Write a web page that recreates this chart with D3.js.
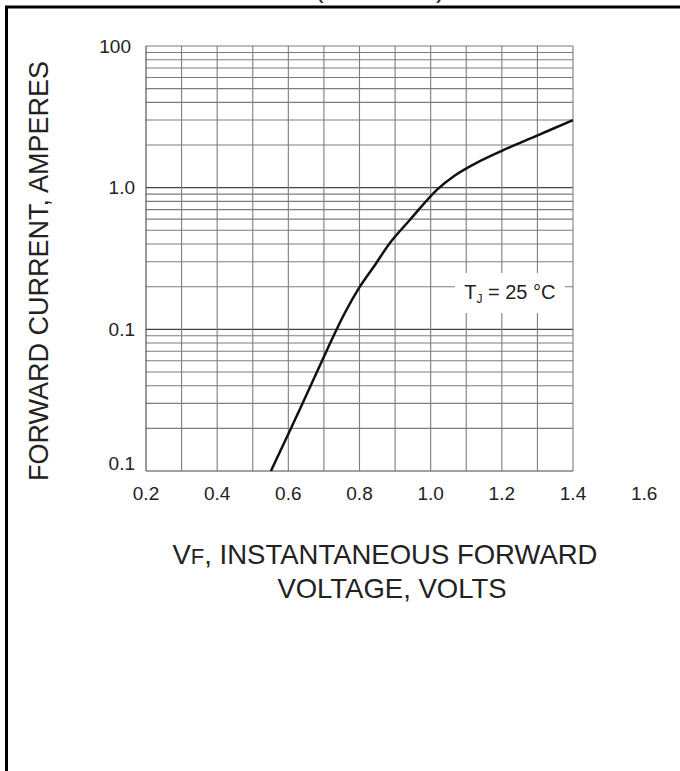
<!DOCTYPE html>
<html>
<head>
<meta charset="utf-8">
<script src="https://cdn.jsdelivr.net/npm/d3@7"></script>
<style>
  body { margin: 0; background: #fff; }
  text { font-family: "Liberation Sans", Arial, sans-serif; fill: #222; }
</style>
</head>
<body>
<svg class="chart" width="680" height="771"></svg>
<script>

// forward voltage (V) vs forward current (A)
var voltage = [0.551, 0.633, 0.717, 0.759, 0.801, 0.844, 0.886, 0.942, 1.018, 1.068, 1.125, 1.200, 1.299, 1.400];
var current = [0.010, 0.0275, 0.0793, 0.131, 0.200, 0.286, 0.409, 0.594, 0.968, 1.22, 1.48, 1.82, 2.33, 3.0];

var xTicks = [0.2, 0.4, 0.6, 0.8, 1.0, 1.2, 1.4, 1.6];
var xTickLabels = ["0.2", "0.4", "0.6", "0.8", "1.0", "1.2", "1.4", "1.6"];
var yTicks = [10, 1, 0.1, 0.01];
var yTickLabels = ["100", "1.0", "0.1", "0.1"];
var xGrid = d3.range(0.2, 1.4001, 0.1);
var yGrid = [0.01, 0.02, 0.03, 0.04, 0.05, 0.06, 0.07, 0.08, 0.09,
             0.1, 0.2, 0.3, 0.4, 0.5, 0.6, 0.7, 0.8, 0.9,
             1, 2, 3, 4, 5, 6, 7, 8, 9, 10];

var svg = d3.select(".chart");

var x = d3.scaleLinear().domain([0.2, 1.4]).range([146, 573]),
    y = d3.scaleLog().domain([0.01, 10]).range([471, 46]);

// page frame from the scanned table cell
svg.append("line").attr("x1", 5).attr("x2", 680).attr("y1", 7).attr("y2", 7)
    .attr("stroke", "#000").attr("stroke-width", 3);
svg.append("line").attr("x1", 6.5).attr("x2", 6.5).attr("y1", 6).attr("y2", 771)
    .attr("stroke", "#000").attr("stroke-width", 3);
svg.append("text").attr("x", 315).attr("y", -2).attr("font-size", 26).text("(");
svg.append("text").attr("x", 436).attr("y", -2).attr("font-size", 26).text(")");

// grid
var grid = svg.append("g");
grid.selectAll(".h").data(yGrid).enter().append("line")
    .attr("x1", x(0.2)).attr("x2", x(1.4))
    .attr("y1", function(d) { return y(d); })
    .attr("y2", function(d) { return y(d); })
    .attr("stroke", function(d) { return yTicks.indexOf(d) >= 0 && d != 10 ? "#444" : "#7d7d7d"; })
    .attr("stroke-width", 1.1);
grid.selectAll(".v").data(xGrid).enter().append("line")
    .attr("x1", function(d) { return x(d); })
    .attr("x2", function(d) { return x(d); })
    .attr("y1", y(10)).attr("y2", y(0.01))
    .attr("stroke", function(d, i) { return i == 0 ? "#444" : "#7d7d7d"; })
    .attr("stroke-width", 1.1);

// curve
var line = d3.line()
    .x(function(d) { return x(d[0]); })
    .y(function(d) { return y(d[1]); })
    .curve(d3.curveCatmullRom.alpha(0.5));

svg.append("path")
    .datum(d3.zip(voltage, current))
    .attr("d", line)
    .attr("fill", "none")
    .attr("stroke", "#111")
    .attr("stroke-width", 2.5);

// temperature note on a white patch
svg.append("rect").attr("x", x(1.068)).attr("y", y(0.25)).attr("width", 110).attr("height", 40)
    .attr("fill", "#fff");
var note = svg.append("text").attr("x", x(1.2) + 8).attr("y", y(0.165)).attr("text-anchor", "middle")
    .attr("font-size", 20);
note.append("tspan").text("T");
note.append("tspan").attr("font-size", 12).attr("dy", 4).text("J");
note.append("tspan").attr("dy", -4).text(" = 25 °C");

// tick labels
svg.selectAll(".xl").data(xTicks).enter().append("text")
    .attr("x", function(d) { return x(d); })
    .attr("y", 500)
    .attr("text-anchor", "middle")
    .attr("font-size", 19)
    .text(function(d, i) { return xTickLabels[i]; });

svg.selectAll(".yl").data(yTicks).enter().append("text")
    .attr("x", function(d) { return d == 10 ? 131 : 135; })
    .attr("y", function(d) { return y(d); })
    .attr("dy", function(d) { return d == 0.01 ? "-0.05em" : "0.35em"; })
    .attr("text-anchor", "end")
    .attr("font-size", 19)
    .text(function(d, i) { return yTickLabels[i]; });

// axis titles
svg.append("text")
    .attr("transform", "translate(48,271) rotate(-90)")
    .attr("text-anchor", "middle")
    .attr("font-size", 27)
    .text("FORWARD CURRENT, AMPERES");

var xt = svg.append("text").attr("x", 385).attr("y", 564).attr("text-anchor", "middle")
    .attr("font-size", 27.5);
xt.append("tspan").text("V");
xt.append("tspan").attr("font-size", 22).text("F");
xt.append("tspan").text(", INSTANTANEOUS FORWARD");

svg.append("text").attr("x", 392).attr("y", 598).attr("text-anchor", "middle")
    .attr("font-size", 27.5)
    .text("VOLTAGE, VOLTS");

</script>
</body>
</html>
